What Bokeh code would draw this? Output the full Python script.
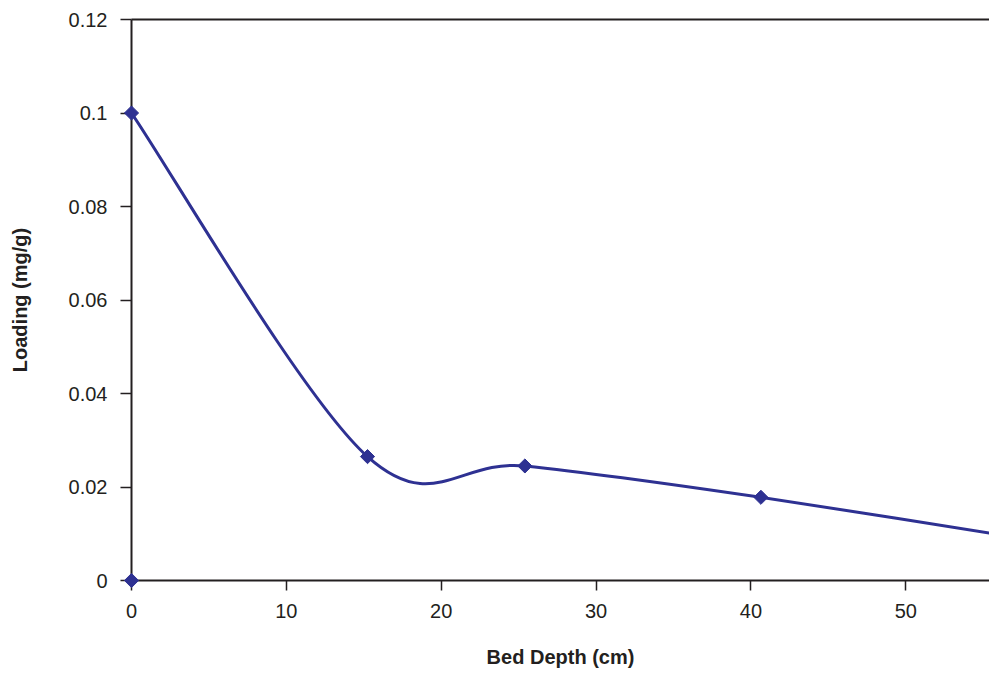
from bokeh.plotting import figure
from bokeh.models import LinearAxis, FixedTicker, Range1d
from bokeh.embed import file_html
from bokeh.resources import INLINE

# Data
depth = [0, 15.24, 25.4, 40.64, 60.96]
loading = [0.1, 0.0265, 0.0245, 0.0178, 0.0072]
origin_x = [0]
origin_y = [0]
x_ticks = [0, 10, 20, 30, 40, 50]
y_ticks = [0, 0.02, 0.04, 0.06, 0.08, 0.1, 0.12]
y_tick_labels = {0: "0", 0.02: "0.02", 0.04: "0.04", 0.06: "0.06", 0.08: "0.08", 0.1: "0.1", 0.12: "0.12"}

LINE = "#2e3192"
AXIS = "#231f20"
FONT = "Liberation Sans"

p = figure(width=989, height=677, output_backend="svg", toolbar_location=None,
           x_range=Range1d(0, 55.4), y_range=Range1d(0, 0.12),
           min_border_left=131, min_border_right=0, min_border_top=19, min_border_bottom=97)
p.outline_line_color = None
p.xgrid.visible = False
p.ygrid.visible = False
p.background_fill_color = "white"

# smoothed line (Excel-style Catmull-Rom bezier through the data points)
n = len(depth)
x0, y0, x1, y1, cx0, cy0, cx1, cy1 = [], [], [], [], [], [], [], []
for i in range(n - 1):
    xp = depth[i - 1] if i > 0 else depth[i]
    yp = loading[i - 1] if i > 0 else loading[i]
    xn = depth[i + 2] if i + 2 < n else depth[i + 1]
    yn = loading[i + 2] if i + 2 < n else loading[i + 1]
    x0.append(depth[i]); y0.append(loading[i])
    x1.append(depth[i + 1]); y1.append(loading[i + 1])
    cx0.append(depth[i] + (depth[i + 1] - xp) / 6)
    cy0.append(loading[i] + (loading[i + 1] - yp) / 6)
    cx1.append(depth[i + 1] - (xn - depth[i]) / 6)
    cy1.append(loading[i + 1] - (yn - loading[i]) / 6)
p.bezier(x0=x0, y0=y0, x1=x1, y1=y1, cx0=cx0, cy0=cy0, cx1=cx1, cy1=cy1,
         line_color=LINE, line_width=3)

p.scatter(depth, loading, marker="square", angle=0.785398, size=10,
          fill_color=LINE, line_color=LINE, line_width=1, level="overlay")
p.scatter(origin_x, origin_y, marker="square", angle=0.785398, size=10,
          fill_color=LINE, line_color=LINE, line_width=1, level="overlay")

# axes
xa = p.xaxis[0]
xa.ticker = FixedTicker(ticks=x_ticks)
xa.axis_label = "Bed Depth (cm)"
ya = p.yaxis[0]
ya.ticker = FixedTicker(ticks=y_ticks)
ya.major_label_overrides = y_tick_labels
ya.axis_label = "Loading (mg/g)"

for ax in (xa, ya):
    ax.axis_line_color = AXIS
    ax.axis_line_width = 2
    ax.major_tick_line_color = AXIS
    ax.major_tick_line_width = 1.5
    ax.major_tick_in = 0
    ax.minor_tick_line_color = None
    ax.major_label_text_font = FONT
    ax.major_label_text_font_size = "20px"
    ax.major_label_text_color = AXIS
    ax.axis_label_text_font = FONT
    ax.axis_label_text_font_size = "20px"
    ax.axis_label_text_font_style = "bold"
    ax.axis_label_text_color = AXIS

xa.major_tick_out = 10
xa.major_label_standoff = 13
xa.axis_label_standoff = 25
ya.major_tick_out = 11
ya.major_label_standoff = 13
ya.axis_label_standoff = 35

top = LinearAxis(ticker=FixedTicker(ticks=[]), axis_line_color=AXIS, axis_line_width=2,
                 major_tick_out=0, major_tick_in=0, minor_tick_line_color=None,
                 major_label_text_font_size="0px")
p.add_layout(top, "above")

open("out.html", "w").write(file_html(p, INLINE))
